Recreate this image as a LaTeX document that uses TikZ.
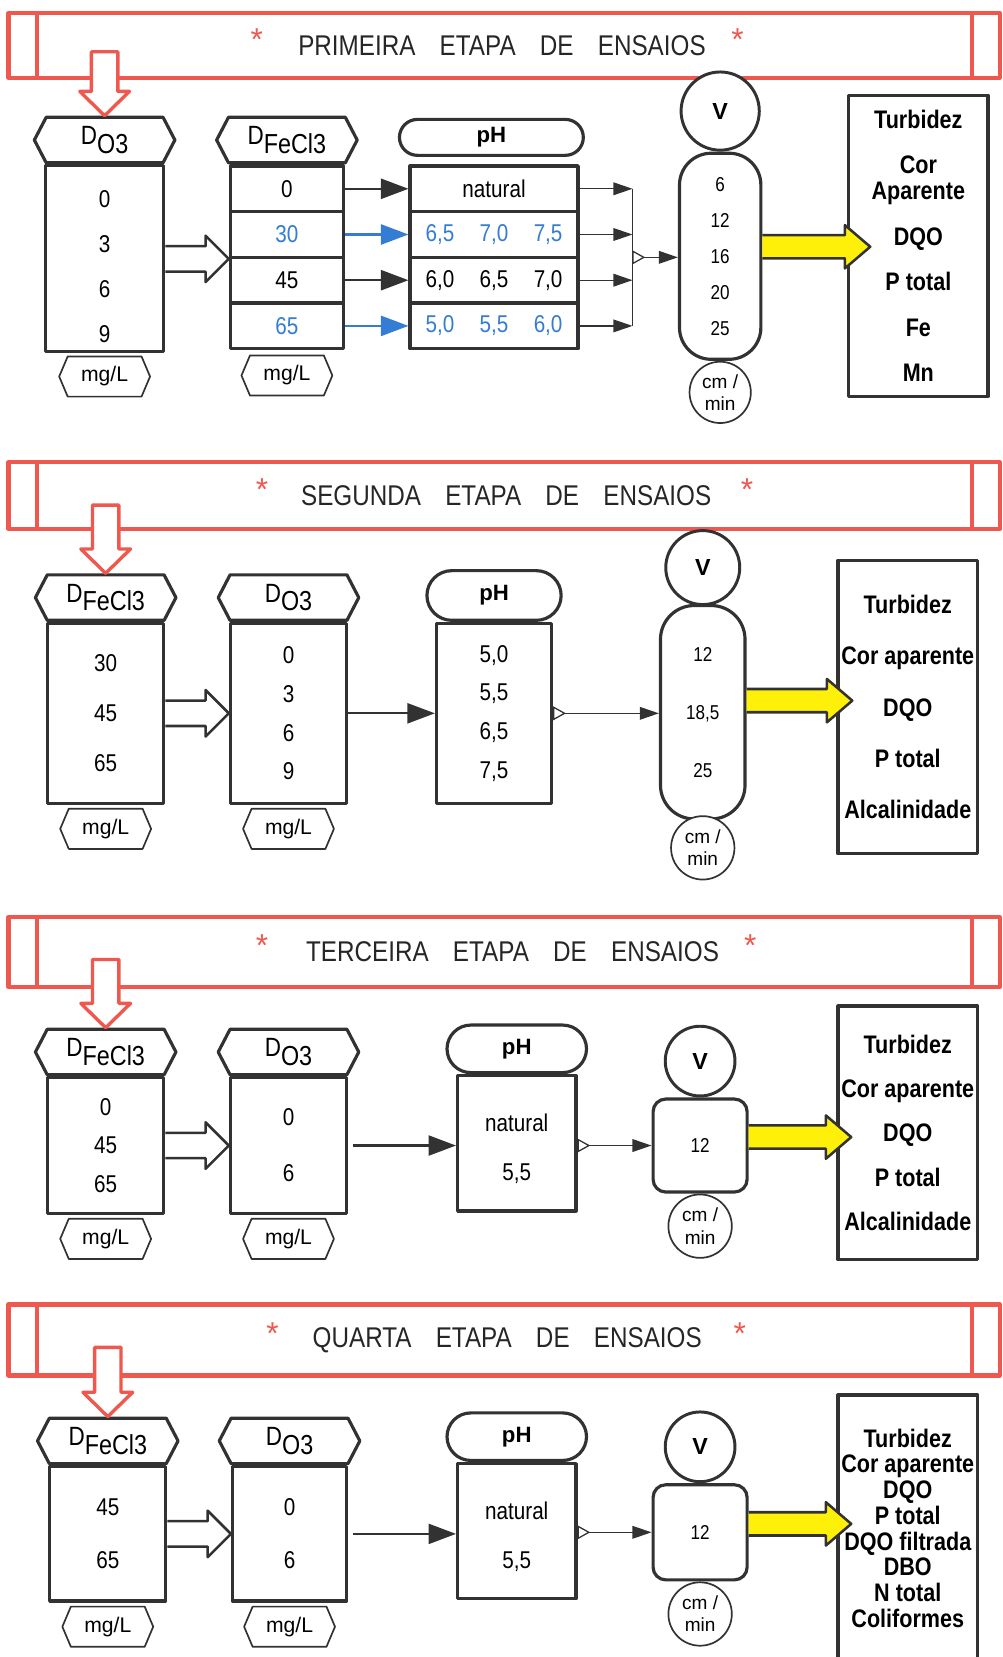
\documentclass[tikz,border=0pt]{standalone}
\usepackage{fontspec}
\setmainfont{Liberation Sans}
\newfontfamily\narrowsans[FakeStretch=0.85]{Liberation Sans}
\usetikzlibrary{arrows.meta,calc,positioning,shapes.symbols,shapes.misc}
\definecolor{bannerred}{RGB}{238,88,78}
\definecolor{linegray}{RGB}{50,50,50}
\definecolor{valblue}{RGB}{52,124,212}
\definecolor{arrowyellow}{RGB}{255,240,10}
\newcommand{\px}[1]{#1*0.5pt}
\newcommand{\Dlabel}[1]{\raisebox{4pt}{\fontsize{12.5}{12.5}\selectfont D}\fontsize{13}{13}\selectfont #1}
\newcommand{\phrow}[3]{#1\hspace{12pt}#2\hspace{12pt}#3}
\newcommand{\HollowArrow}[2]{%
  \draw[hollow arrow] let \p1=(#1),\p2=(#2) in
    (\x1,\y1+6pt) -- (\x2-11pt,\y1+6pt) -- (\x2-11pt,\y1+11pt) -- (\x2,\y1)
    -- (\x2-11pt,\y1-11pt) -- (\x2-11pt,\y1-6pt) -- (\x1,\y1-6pt);}
\newcommand{\YellowArrow}[2]{%
  \draw[yellow arrow] let \p1=(#1),\p2=(#2) in
    (\x1,\y1+5.5pt) -- (\x2-12pt,\y1+5.5pt) -- (\x2-12pt,\y1+10.25pt) -- (\x2,\y1)
    -- (\x2-12pt,\y1-10.25pt) -- (\x2-12pt,\y1-5.5pt) -- (\x1,\y1-5.5pt);}
\newcommand{\RedArrow}[2]{%
  \draw[red arrow] let \p1=(#1),\p2=(#2) in
    (\x2-6.25pt,\y1) -- (\x2-6.25pt,\y2+11.5pt) -- (\x2-11.75pt,\y2+11.5pt) -- (\x2,\y2)
    -- (\x2+11.75pt,\y2+11.5pt) -- (\x2+6.25pt,\y2+11.5pt) -- (\x2+6.25pt,\y1) -- cycle;}
\tikzset{
  banner/.style={draw=bannerred,line width=2pt,outer sep=0pt},
  banner text/.style={font=\narrowsans\fontsize{13.5}{15}\selectfont,text=black!85},
  banner star/.style={font=\fontsize{15}{15}\selectfont,text=bannerred,inner sep=0pt},
  box/.style={draw=linegray,line width=1.5pt,fill=white,inner sep=0pt,align=center},
  vals/.style={font=\narrowsans\fontsize{11.5}{#1}\selectfont},
  dose head/.style={signal,signal to=west and east,signal pointer angle=125,draw=linegray,
    line width=1.5pt,fill=white,inner sep=0pt,minimum width=\px{133},minimum height=\px{43},font=\narrowsans},
  unit tag/.style={signal,signal to=west and east,signal pointer angle=134,draw=linegray,
    line width=0.8pt,fill=white,inner sep=0pt,minimum width=\px{86},minimum height=\px{38},
    font=\fontsize{10}{12}\selectfont},
  ph head/.style={rounded rectangle,draw=linegray,line width=1.5pt,fill=white,inner sep=0pt,
    font=\bfseries\fontsize{10.5}{12}\selectfont},
  vel col/.style={box,font=\narrowsans\fontsize{9.5}{#1}\selectfont},
  vel ball/.style={circle,draw=linegray,line width=1.4pt,fill=white,inner sep=0pt,minimum size=#1,
    font=\bfseries\fontsize{11}{12}\selectfont},
  unit ball/.style={circle,draw=linegray,line width=0.8pt,fill=white,inner sep=0pt,minimum size=#1,
    align=center,font=\fontsize{9}{10.5}\selectfont},
  result/.style={box,font=\narrowsans\bfseries\fontsize{12}{#1}\selectfont},
  big link/.style={draw=linegray,line width=1pt,-{Triangle[length=13pt,width=9.5pt]}},
  small link/.style={draw=linegray,line width=0.6pt,-{Triangle[length=9pt,width=6pt]}},
  tail link/.style={draw=linegray,line width=0.6pt,
    {Triangle[open,reversed,length=6pt,width=6.5pt]}-{Triangle[length=9pt,width=6pt]}},
  hollow arrow/.style={draw=linegray,line width=1.2pt,fill=white},
  yellow arrow/.style={draw=linegray,line width=1.2pt,fill=arrowyellow},
  red arrow/.style={draw=bannerred,line width=1.6pt,fill=white}
}
\begin{document}
\begin{tikzpicture}[x=0.5pt,y=-0.5pt,line join=round]
  \useasboundingbox (0,0) rectangle (949,1568);

  % ---------- first stage ----------
  \node[banner,minimum width=\px{938},minimum height=\px{61}] (b1) at (477,43) {};
  \draw[banner] ([xshift=\px{27}]b1.north west) -- ([xshift=\px{27}]b1.south west)
        ([xshift=-\px{26}]b1.north east) -- ([xshift=-\px{26}]b1.south east);
  \node[banner text] (t1) at (475,43) {PRIMEIRA\hspace{0.85em}ETAPA\hspace{0.85em}DE\hspace{0.85em}ENSAIOS};
  \node[banner star] (s1a) at (243,37) {*};
  \node[banner star] (s1b) at (698,37) {*};

  \node[box,vals=21.35pt,minimum width=\px{112},minimum height=\px{176}] (d1a) at (99,245) {\\[-6pt]0\\3\\6\\9};
  \node[dose head,above=0pt of d1a] (h1a) {\Dlabel{O3}};
  \node[unit tag,below=\px{2} of d1a] (u1a) {mg/L};

  \foreach \v/\c [count=\i] in {0/black,30/valblue,45/black,65/valblue}
    \node[box,vals=14pt,text=\c,minimum width=\px{107},minimum height=\px{43.25}] (d1b-\i) at (271.5,{135.4+43.25*\i}) {\v};
  \node[dose head,above=0pt of d1b-1] (h1b) {\Dlabel{FeCl3}};
  \node[unit tag,below=\px{4} of d1b-4] (u1b) {mg/L};

  \node[ph head,minimum width=\px{174},minimum height=\px{34}] (p1h) at (465,130) {pH};
  \foreach \v/\c [count=\i] in {natural/black,\phrow{6,5}{7,0}{7,5}/valblue,\phrow{6,0}{6,5}{7,0}/black,\phrow{5,0}{5,5}{6,0}/valblue}
    \node[box,vals=14pt,text=\c,minimum width=\px{159},minimum height=\px{43.25}] (p1-\i) at (467.5,{135.4+43.25*\i}) {\v};

  \node[vel col=17pt,rounded corners=\px{30},minimum width=\px{77},minimum height=\px{195}] (v1) at (681.5,242.5) {6\\12\\16\\20\\25};
  \node[vel ball=\px{74},above=0pt of v1] (v1c) {V};
  \node[unit ball=\px{58},below=0pt of v1] (v1u) {cm /\\min};

  \node[result=12.5pt,minimum width=\px{132},minimum height=\px{285}] (r1) at (869,232.5)
    {Turbidez\\[9pt]Cor\\Aparente\\[9pt]DQO\\[9pt]P total\\[9pt]Fe\\[9pt]Mn};

  \HollowArrow{d1a.east}{d1b-2.south west}
  \foreach \c [count=\i] in {linegray,valblue,linegray,valblue}
    \draw[big link,draw=\c] (d1b-\i) -- (p1-\i);
  \foreach \i in {1,...,4} {
    \coordinate (j1-\i) at ([xshift=\px{50}]p1-\i.east);
    \draw[small link] (p1-\i) -- (j1-\i);
  }
  \draw[linegray,line width=0.6pt] (j1-1) -- (j1-4);
  \coordinate (j1) at ($(j1-1)!0.5!(j1-4)$);
  \draw[tail link] (j1) -- (j1 -| v1.west);
  \YellowArrow{[yshift=4.5pt]v1.east}{[xshift=\px{22}]r1.west}
  \coordinate (a1) at (98,49);
  \RedArrow{a1}{h1a.north}

  % ---------- second stage ----------
  \node[banner,minimum width=\px{938},minimum height=\px{63}] (b2) at (477,469) {};
  \draw[banner] ([xshift=\px{27}]b2.north west) -- ([xshift=\px{27}]b2.south west)
        ([xshift=-\px{26}]b2.north east) -- ([xshift=-\px{26}]b2.south east);
  \node[banner text] (t2) at (479,469) {SEGUNDA\hspace{0.85em}ETAPA\hspace{0.85em}DE\hspace{0.85em}ENSAIOS};
  \node[banner star] (s2a) at (248,463) {*};
  \node[banner star] (s2b) at (707,463) {*};

  \node[box,vals=23.75pt,minimum width=\px{110},minimum height=\px{170}] (d2a) at (100,675) {30\\45\\65};
  \node[dose head,above=0pt of d2a] (h2a) {\Dlabel{FeCl3}};
  \node[unit tag,below=\px{3} of d2a] (u2a) {mg/L};

  \node[box,vals=18.35pt,minimum width=\px{110},minimum height=\px{170}] (d2b) at (273,675) {0\\3\\6\\9};
  \node[dose head,above=0pt of d2b] (h2b) {\Dlabel{O3}};
  \node[unit tag,below=\px{3} of d2b] (u2b) {mg/L};

  \node[box,vals=18.35pt,minimum width=\px{109},minimum height=\px{170}] (p2) at (467.5,675) {5,0\\5,5\\6,5\\7,5};
  \node[ph head,minimum width=\px{127},minimum height=\px{47},above=0pt of p2] (p2h) {pH};

  \node[vel col=27.5pt,rounded corners=\px{32},minimum width=\px{80},minimum height=\px{202}] (v2) at (665,674) {12\\18,5\\25};
  \node[vel ball=\px{70},above=-1pt of v2] (v2c) {V};
  \node[unit ball=\px{60},below=-2.5pt of v2] (v2u) {cm /\\min};

  \node[result=24.25pt,minimum width=\px{132},minimum height=\px{278}] (r2) at (859,669)
    {Turbidez\\Cor aparente\\DQO\\P total\\Alcalinidade};

  \HollowArrow{d2a.east}{d2b.west}
  \draw[big link] (d2b) -- (p2);
  \draw[tail link] (p2.east) -- (p2.east -| v2.west);
  \YellowArrow{[yshift=5.5pt]v2.east}{[xshift=\px{15}]r2.west}
  \coordinate (a2) at (99,478);
  \RedArrow{a2}{h2a.north}

  % ---------- third stage ----------
  \node[banner,minimum width=\px{938},minimum height=\px{66}] (b3) at (477,901) {};
  \draw[banner] ([xshift=\px{27}]b3.north west) -- ([xshift=\px{27}]b3.south west)
        ([xshift=-\px{26}]b3.north east) -- ([xshift=-\px{26}]b3.south east);
  \node[banner text] (t3) at (485,901) {TERCEIRA\hspace{0.85em}ETAPA\hspace{0.85em}DE\hspace{0.85em}ENSAIOS};
  \node[banner star] (s3a) at (248,895) {*};
  \node[banner star] (s3b) at (710,895) {*};

  \node[box,vals=18.25pt,minimum width=\px{110},minimum height=\px{128}] (d3a) at (100,1084) {0\\45\\65};
  \node[dose head,above=0pt of d3a] (h3a) {\Dlabel{FeCl3}};
  \node[unit tag,below=\px{3} of d3a] (u3a) {mg/L};

  \node[box,vals=26.5pt,minimum width=\px{110},minimum height=\px{128}] (d3b) at (273,1084) {0\\6};
  \node[dose head,above=0pt of d3b] (h3b) {\Dlabel{O3}};
  \node[unit tag,below=\px{3} of d3b] (u3b) {mg/L};

  \node[box,vals=23.5pt,minimum width=\px{112},minimum height=\px{128}] (p3) at (489,1082) {\\[-10pt]natural\\5,5};
  \node[ph head,minimum width=\px{132},minimum height=\px{45},above=0pt of p3] (p3h) {pH};

  \node[vel col=12pt,rounded corners=\px{12},minimum width=\px{89},minimum height=\px{88}] (v3) at (662.5,1084) {12};
  \node[vel ball=\px{66},above=0pt of v3] (v3c) {V};
  \node[unit ball=\px{60},below=0pt of v3] (v3u) {cm /\\min};

  \node[result=21pt,minimum width=\px{132},minimum height=\px{240}] (r3) at (859,1072)
    {Turbidez\\Cor aparente\\DQO\\P total\\Alcalinidade};

  \HollowArrow{d3a.east}{d3b.west}
  \draw[big link,shorten <=2.5pt] (d3b.east) -- (d3b.east -| p3.west);
  \draw[tail link] (v3.west -| p3.east) -- (v3.west);
  \YellowArrow{[yshift=4pt]v3.east}{[xshift=\px{14}]r3.west}
  \coordinate (a3) at (100,908);
  \RedArrow{a3}{h3a.north}

  % ---------- fourth stage ----------
  \node[banner,minimum width=\px{938},minimum height=\px{67}] (b4) at (477,1268) {};
  \draw[banner] ([xshift=\px{27}]b4.north west) -- ([xshift=\px{27}]b4.south west)
        ([xshift=-\px{26}]b4.north east) -- ([xshift=-\px{26}]b4.south east);
  \node[banner text] (t4) at (480,1268) {QUARTA\hspace{0.85em}ETAPA\hspace{0.85em}DE\hspace{0.85em}ENSAIOS};
  \node[banner star] (s4a) at (258,1262) {*};
  \node[banner star] (s4b) at (700,1262) {*};

  \node[box,vals=25pt,minimum width=\px{110},minimum height=\px{127}] (d4a) at (102,1451.5) {45\\65};
  \node[dose head,above=0pt of d4a] (h4a) {\Dlabel{FeCl3}};
  \node[unit tag,below=\px{3} of d4a] (u4a) {mg/L};

  \node[box,vals=25pt,minimum width=\px{108},minimum height=\px{127}] (d4b) at (274,1451.5) {0\\6};
  \node[dose head,above=0pt of d4b] (h4b) {\Dlabel{O3}};
  \node[unit tag,below=\px{3} of d4b] (u4b) {mg/L};

  \node[box,vals=23.5pt,minimum width=\px{112},minimum height=\px{128}] (p4) at (489,1449) {\\[-10pt]natural\\5,5};
  \node[ph head,minimum width=\px{132},minimum height=\px{45},above=0pt of p4] (p4h) {pH};

  \node[vel col=12pt,rounded corners=\px{12},minimum width=\px{89},minimum height=\px{90}] (v4) at (662.5,1450) {12};
  \node[vel ball=\px{66},above=0pt of v4] (v4c) {V};
  \node[unit ball=\px{60},below=0pt of v4] (v4u) {cm /\\min};

  \node[result=12.15pt,minimum width=\px{132},minimum height=\px{252}] (r4) at (859,1446)
    {Turbidez\\Cor aparente\\DQO\\P total\\DQO filtrada\\DBO\\N total\\Coliformes};

  \HollowArrow{d4a.east}{d4b.west}
  \draw[big link,shorten <=2.5pt] (d4b.east) -- (d4b.east -| p4.west);
  \draw[tail link] (v4.west -| p4.east) -- (v4.west);
  \YellowArrow{[yshift=4pt]v4.east}{[xshift=\px{14}]r4.west}
  \coordinate (a4) at (100,1275);
  \RedArrow{a4}{h4a.north}
\end{tikzpicture}
\end{document}
